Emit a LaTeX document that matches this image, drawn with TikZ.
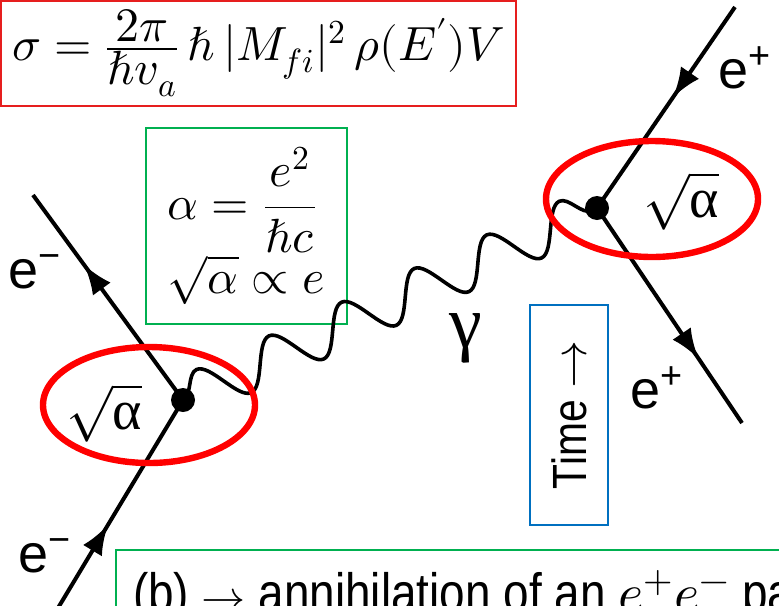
\documentclass[tikz,border=0pt]{standalone}
\usepackage{fontspec}
\usepackage{unicode-math}
\setmainfont{Liberation Sans}
\setmathfont{Latin Modern Math}
\newfontfamily\greekfont{Liberation Serif}
\newfontfamily\narrowfont[FakeStretch=0.85]{Liberation Sans}
\usetikzlibrary{arrows.meta, decorations.markings, decorations.pathmorphing, shapes.geometric}
\definecolor{boxred}{RGB}{230,30,30}
\definecolor{boxgreen}{RGB}{0,176,80}
\definecolor{boxblue}{RGB}{0,112,192}
\definecolor{ringred}{RGB}{255,0,0}

\tikzset{
  fermion/.style={line width=2pt, postaction={decorate},
    decoration={markings, mark=at position #1 with {\arrow{Latex[length=15pt,width=11pt]}}}},
  photon/.style={line width=1.8pt, decorate,
    decoration={snake, segment length=40pt, amplitude=11pt}},
  vertexdot/.style={circle, fill=black, inner sep=0pt, minimum size=12pt},
  couplingring/.style={ellipse, draw=ringred, line width=3.2pt, inner sep=0pt,
    minimum width=106pt, minimum height=58pt},
  notebox/.style={draw=#1, line width=1pt, inner sep=0pt},
  particle/.style={font=\fontsize{27}{30}\selectfont, inner sep=0pt},
  coupling/.style={font=\fontsize{28}{32}\selectfont, inner sep=0pt}
}

\begin{document}
\begin{tikzpicture}[x=0.5pt, y=-0.5pt]
  \useasboundingbox (0,0) rectangle (779,605);
  \clip (0,0) rectangle (779,605);

  % cross section box
  \node[notebox=boxred, line width=0.8pt, minimum width=257.5pt, minimum height=52.5pt,
        font=\fontsize{24}{28}\selectfont] (sigmabox) at (258.5,53.5)
    {$\sigma = \frac{\displaystyle 2\pi}{\displaystyle \hbar v_a}\,\hbar\,|M_{fi}|^2\,\rho(E')V$};

  % coupling constant box
  \node[notebox=boxgreen, minimum width=100.5pt, minimum height=98pt, align=left,
        font=\fontsize{24}{28}\selectfont] (alphabox) at (246.5,226)
    {$\alpha = \dfrac{e^2}{\hbar c}$\\[0pt] $\sqrt{\alpha} \propto e$};

  % time axis
  \node[notebox=boxblue, rotate=90, minimum width=110pt, minimum height=39pt,
        font=\fontsize{24}{28}\selectfont\narrowfont] (timebox) at (569,415) {Time $\rightarrow$};

  % caption
  \node[notebox=boxgreen, anchor=north west, inner xsep=8.5pt, inner ysep=10pt,
        text depth=20pt, font=\fontsize{27}{30}\selectfont\narrowfont] (caption) at (115,549)
    {(b) {\fontsize{22}{24}\selectfont$\rightarrow$} annihilation of an $e^+e^-$ pair};

  % vertices and line ends
  \coordinate (vL) at (183,400);
  \coordinate (vR) at (597,208);
  \coordinate (ulEnd) at (33,195);
  \coordinate (llEnd) at (58,608);
  \coordinate (urEnd) at (735,7);
  \coordinate (lrEnd) at (742,423);

  \draw[fermion=0.66] (vL) -- (ulEnd);
  \draw[fermion=0.40] (llEnd) -- (vL);
  \draw[fermion=0.45] (urEnd) -- (vR);
  \draw[fermion=0.70] (vR) -- (lrEnd);
  \draw[photon] (vL) -- (vR);

  \node[vertexdot] (dotL) at (vL) {};
  \node[vertexdot] (dotR) at (vR) {};

  % labels
  \node[particle, anchor=base west] (emUp) at (8,288) {e\textsuperscript{−}};
  \node[particle, anchor=base west] (emDown) at (18,572) {e\textsuperscript{−}};
  \node[particle, anchor=base west] (epUp) at (718,88) {e\textsuperscript{+}};
  \node[particle, anchor=base west] (epDown) at (630,408) {e\textsuperscript{+}};
  \node[font=\fontsize{37}{40}\selectfont\greekfont, inner sep=0pt] (gam) at (466,338) {γ};

  \node[coupling] (sqrtL) at (104,413) {$\sqrt{\hbox{\greekfont α}}$};
  \node[coupling] (sqrtR) at (681,201) {$\sqrt{\hbox{\greekfont α}}$};

  % coupling rings
  \node[couplingring] (ringL) at (149,405) {};
  \node[couplingring] (ringR) at (652,199) {};
\end{tikzpicture}
\end{document}
